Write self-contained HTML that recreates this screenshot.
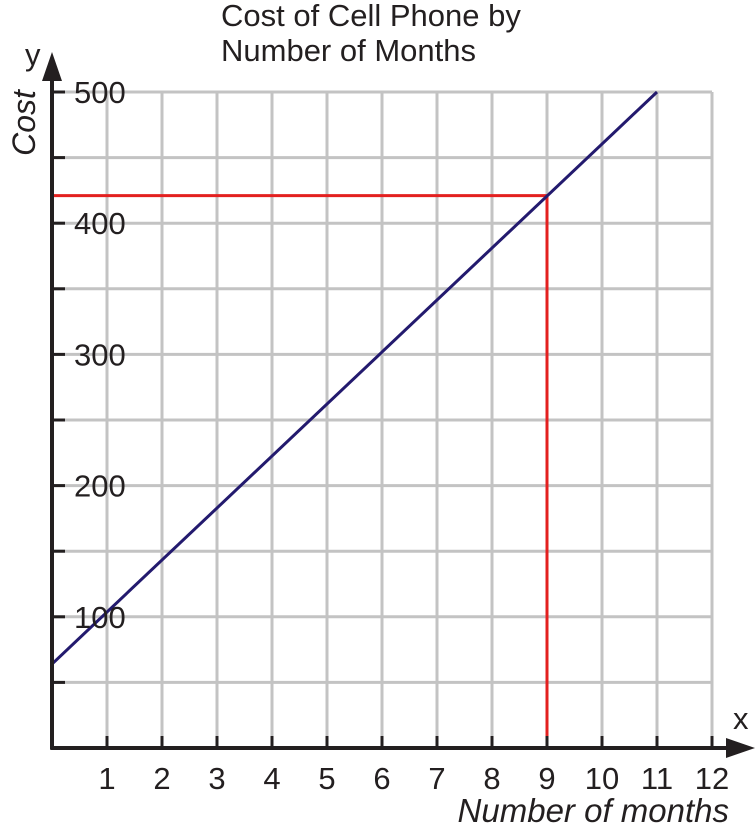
<!DOCTYPE html>
<html><head><meta charset="utf-8"><style>
body{margin:0;background:#fff;}
svg{display:block;font-family:"Liberation Sans",Arial,sans-serif;}
</style></head><body>
<svg id="c" width="756" height="825">
<text x="221" y="26" font-size="31" fill="#231f20">Cost of Cell Phone by</text>
<text x="221" y="61" font-size="31" fill="#231f20">Number of Months</text>
<text transform="translate(35,123) rotate(-90)" font-size="32" font-style="italic" text-anchor="middle" fill="#231f20">Cost</text>
<text x="729" y="822" font-size="33" font-style="italic" text-anchor="end" fill="#231f20">Number of months</text>
<text x="25" y="65" font-size="31" fill="#231f20">y</text>
<text x="733" y="729" font-size="31" fill="#231f20">x</text>
<g id="grid"></g><g id="marks"></g><g id="axes"></g>
</svg>
<script>
const xTicks=[1,2,3,4,5,6,7,8,9,10,11,12];
const yTicks=[100,200,300,400,500];
const lineX=[0,11];
const lineY=[64,500];
const readX=[9];
const readY=[421];
const X0=52,Y0=748,PX=55,PY=1.312;
const sx=v=>X0+v*PX, sy=v=>Y0-v*PY;
const NS="http://www.w3.org/2000/svg";
function mk(t,a,p){const e=document.createElementNS(NS,t);for(const k in a)e.setAttribute(k,a[k]);p.appendChild(e);return e;}
const g=document.getElementById('grid'),m=document.getElementById('marks'),ax=document.getElementById('axes');
xTicks.forEach(v=>{
 const l=mk('line',{x1:sx(v),x2:sx(v),y1:sy(500),y2:Y0,stroke:'#c3c3c3','stroke-width':3},g);
 
 
 const t=mk('line',{x1:sx(v),x2:sx(v),y1:Y0-12,y2:Y0,stroke:'#231f20','stroke-width':3},ax);
 
 
 const tx=mk('text',{x:sx(v),y:Y0+41,'font-size':31,'text-anchor':'middle',fill:'#231f20'},ax);
 tx.textContent=v;
 
 
});
for(let v=50;v<=500;v+=50){
 const l=mk('line',{x1:X0,x2:sx(12),y1:sy(v),y2:sy(v),stroke:'#c3c3c3','stroke-width':3},g);
 
 
 const t=mk('line',{x1:X0,x2:X0+13,y1:sy(v),y2:sy(v),stroke:'#231f20','stroke-width':3},ax);
 
 
}
yTicks.forEach(v=>{
 const tx=mk('text',{x:X0+22,y:sy(v)+11,'font-size':31,fill:'#231f20'},ax);
 tx.textContent=v;
 
 
});
const rh=mk('line',{x1:X0,x2:sx(readX[0]),y1:sy(readY[0]),y2:sy(readY[0]),stroke:'#e3201f','stroke-width':3},m);


const rv=mk('line',{x1:sx(readX[0]),x2:sx(readX[0]),y1:sy(readY[0]),y2:Y0,stroke:'#e3201f','stroke-width':3},m);


const cl=mk('line',{x1:sx(lineX[0]),y1:sy(lineY[0]),x2:sx(lineX[1]),y2:sy(lineY[1]),stroke:'#231a6e','stroke-width':3},m);


const ya=mk('line',{x1:X0,x2:X0,y1:Y0+1.5,y2:70,stroke:'#231f20','stroke-width':4},ax);


const xa=mk('line',{x1:X0-1.5,x2:735,y1:Y0,y2:Y0,stroke:'#231f20','stroke-width':4},ax);


const yar=mk('polygon',{points:`${X0},52 ${X0-10},81 ${X0+10},81`,fill:'#231f20'},ax);


const xar=mk('polygon',{points:`755,${Y0} 726,${Y0-10} 726,${Y0+10}`,fill:'#231f20'},ax);


</script>
</body></html>
